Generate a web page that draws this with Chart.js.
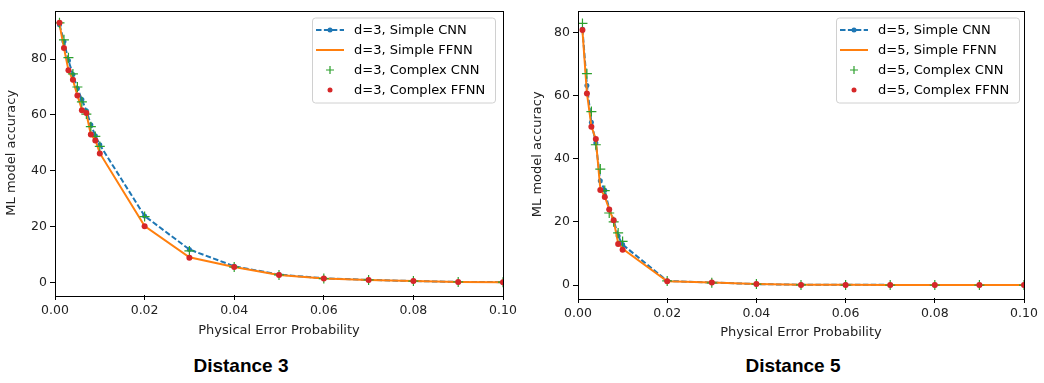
<!DOCTYPE html>
<html>
<head>
<meta charset="utf-8">
<script src="https://cdn.jsdelivr.net/npm/chart.js@4.4.1/dist/chart.umd.min.js"></script>
<style>
    body { margin: 0; background: #fff; width: 1044px; height: 383px; position: relative; overflow: hidden; }
    canvas { position: absolute; top: 0; }
    #chartD3 { left: 0; }
    #chartD5 { left: 520px; }
    .caption { position: absolute; top: 355px; width: 200px; text-align: center; font: bold 19px "Liberation Sans", Arial, sans-serif; color: #000; line-height: 22px; }
</style>
</head>
<body>
<canvas id="chartD3" width="520" height="345"></canvas>
<canvas id="chartD5" width="524" height="345"></canvas>
<div class="caption" style="left:141px">Distance 3</div>
<div class="caption" style="left:693px">Distance 5</div>
<script>
// physical error probabilities (x values)
const probs = [0.001, 0.002, 0.003, 0.004, 0.005, 0.006, 0.007, 0.008, 0.009, 0.01,
    0.02, 0.03, 0.04, 0.05, 0.06, 0.07, 0.08, 0.09, 0.1];

// distance 3
const d3SimpleCnn   = [92.3, 86.3, 79.5, 74.5, 69.5, 65.5, 61.5, 56.5, 52.5, 49.3, 23.8, 11.8, 5.8, 2.8, 1.5, 0.9, 0.5, 0.2, 0.1];
const d3SimpleFfnn  = [92.5, 84.0, 76.0, 72.5, 67.0, 62.0, 60.5, 53.0, 51.0, 46.3, 20.2, 9.0, 5.5, 2.7, 1.4, 0.9, 0.5, 0.2, 0.1];
const d3ComplexCnn  = [93.0, 86.9, 80.5, 74.7, 70.0, 64.7, 60.3, 55.8, 52.3, 48.7, 23.6, 11.3, 5.5, 2.7, 1.4, 0.9, 0.5, 0.2, 0.1];
const d3ComplexFfnn = [93.0, 84.0, 76.0, 72.6, 67.0, 61.7, 60.7, 53.0, 50.8, 46.2, 20.1, 8.8, 5.5, 2.7, 1.4, 0.9, 0.5, 0.2, 0.1];

// distance 5
const d5SimpleCnn   = [81.0, 63.2, 51.5, 45.0, 33.0, 30.0, 24.0, 20.5, 15.5, 12.8, 1.3, 0.8, 0.3, 0.1, 0.1, 0.05, 0.05, 0.05, 0.05];
const d5SimpleFfnn  = [80.5, 60.8, 50.3, 46.0, 30.5, 28.0, 24.0, 20.3, 13.3, 11.5, 1.2, 0.8, 0.3, 0.1, 0.1, 0.05, 0.05, 0.05, 0.05];
const d5ComplexCnn  = [82.8, 66.9, 54.9, 44.4, 36.7, 29.9, 22.8, 20.0, 16.5, 13.8, 1.3, 0.7, 0.3, 0.05, 0, 0, 0, 0, 0];
const d5ComplexFfnn = [80.7, 60.6, 50.1, 46.2, 30.1, 27.9, 23.9, 20.5, 13.0, 11.2, 1.2, 0.8, 0.3, 0.05, 0.05, 0, 0, 0, 0];

// tick labels
const xTicks = [0, 0.02, 0.04, 0.06, 0.08, 0.1];
const yTicksD3 = [0, 20, 40, 60, 80];
const yTicksD5 = [0, 20, 40, 60, 80];

const seriesNames = ['Simple CNN', 'Simple FFNN', 'Complex CNN', 'Complex FFNN'];

const BLUE = '#1f77b4', ORANGE = '#ff7f0e', GREEN = '#2ca02c', RED = '#d62728';

function toPoints(values) {
    return values.map((v, i) => ({ x: probs[i], y: v }));
}

// black box round the plot area, like matplotlib spines
const frame = {
    id: 'frame',
    afterDatasetsDraw(chart) {
        const { ctx, chartArea: a } = chart;
        ctx.save();
        ctx.strokeStyle = '#000';
        ctx.lineWidth = 1;
        ctx.strokeRect(Math.round(a.left) + 0.5, Math.round(a.top) + 0.5,
            Math.round(a.right - a.left), Math.round(a.bottom - a.top));
        ctx.restore();
    }
};

// matplotlib style legend box in the upper right
const boxLegend = {
    id: 'boxLegend',
    afterDraw(chart, args, opts) {
        const { ctx, chartArea: a } = chart;
        const w = 183, h = 85;
        const x = a.right - opts.right - w;
        const y = a.top + opts.top;
        ctx.save();
        ctx.fillStyle = 'rgba(255,255,255,0.85)';
        ctx.strokeStyle = '#d0d0d0';
        ctx.lineWidth = 1;
        ctx.beginPath();
        ctx.roundRect(x + 0.5, y + 0.5, w, h, 3);
        ctx.fill();
        ctx.stroke();

        ctx.font = '13px "DejaVu Sans"';
        ctx.textBaseline = 'middle';
        ctx.fillStyle = '#000';
        opts.labels.forEach((label, i) => {
            const ry = y + 12.5 + i * 20;
            const hx = x + 4, hw = 28, cx = hx + hw / 2;
            if (i === 0) {
                ctx.strokeStyle = BLUE;
                ctx.lineWidth = 2;
                ctx.setLineDash([5.5, 2.4]);
                ctx.beginPath(); ctx.moveTo(hx, ry); ctx.lineTo(hx + hw, ry); ctx.stroke();
                ctx.setLineDash([]);
                ctx.fillStyle = BLUE;
                ctx.beginPath(); ctx.arc(cx, ry, 2.5, 0, Math.PI * 2); ctx.fill();
            } else if (i === 1) {
                ctx.strokeStyle = ORANGE;
                ctx.lineWidth = 2;
                ctx.beginPath(); ctx.moveTo(hx, ry); ctx.lineTo(hx + hw, ry); ctx.stroke();
            } else if (i === 2) {
                ctx.strokeStyle = GREEN;
                ctx.lineWidth = 1.2;
                ctx.beginPath();
                ctx.moveTo(cx - 4, ry); ctx.lineTo(cx + 4, ry);
                ctx.moveTo(cx, ry - 4); ctx.lineTo(cx, ry + 4);
                ctx.stroke();
            } else {
                ctx.fillStyle = RED;
                ctx.beginPath(); ctx.arc(cx, ry, 2.5, 0, Math.PI * 2); ctx.fill();
            }
            ctx.fillStyle = '#000';
            ctx.fillText(label, x + 42, ry + 1);
        });
        ctx.restore();
    }
};

function makeChart(id, d, series, yTicks, yRange, layout) {
    const ctx = document.getElementById(id).getContext('2d');
    return new Chart(ctx, {
        type: 'scatter',
        data: {
            datasets: [
                {
                    label: 'd=' + d + ', ' + seriesNames[0], data: toPoints(series[0]),
                    showLine: true, borderColor: BLUE, backgroundColor: BLUE, borderWidth: 2,
                    borderDash: [5.5, 2.4], pointRadius: 2.5, pointBorderWidth: 0, order: 4
                },
                {
                    label: 'd=' + d + ', ' + seriesNames[1], data: toPoints(series[1]),
                    showLine: true, borderColor: ORANGE, backgroundColor: ORANGE, borderWidth: 2,
                    pointRadius: 0, order: 3
                },
                {
                    label: 'd=' + d + ', ' + seriesNames[2], data: toPoints(series[2]),
                    showLine: false, borderColor: GREEN, backgroundColor: GREEN,
                    pointStyle: 'cross', pointRadius: 5, pointBorderWidth: 1.2, order: 2
                },
                {
                    label: 'd=' + d + ', ' + seriesNames[3], data: toPoints(series[3]),
                    showLine: false, borderColor: RED, backgroundColor: RED,
                    pointRadius: 3, pointBorderWidth: 0, order: 1
                }
            ]
        },
        options: {
            responsive: false,
            animation: false,
            layout: { padding: layout.padding },
            plugins: {
                legend: { display: false },
                tooltip: { enabled: false },
                boxLegend: { right: layout.legendRight, top: 7, labels: seriesNames.map(n => 'd=' + d + ', ' + n) }
            },
            scales: {
                x: {
                    type: 'linear', min: 0, max: 0.1,
                    afterBuildTicks: s => { s.ticks = xTicks.map(v => ({ value: v })); },
                    afterFit: s => { s.height = layout.xHeight; },
                    ticks: { color: '#222', font: { family: 'DejaVu Sans', size: 12.5 }, padding: 3, maxRotation: 0,
                        callback: v => v.toFixed(2) },
                    grid: { drawOnChartArea: false, color: '#000', tickLength: 5 },
                    border: { display: false },
                    title: { display: true, text: 'Physical Error Probability', color: '#222',
                        font: { family: 'DejaVu Sans', size: 13 } }
                },
                y: {
                    type: 'linear', min: yRange[0], max: yRange[1],
                    afterBuildTicks: s => { s.ticks = yTicks.map(v => ({ value: v })); },
                    afterFit: s => { s.width = layout.yWidth; },
                    ticks: { color: '#222', font: { family: 'DejaVu Sans', size: 12.5 }, padding: 3 },
                    grid: { drawOnChartArea: false, color: '#000', tickLength: 5 },
                    border: { display: false },
                    title: { display: true, text: 'ML model accuracy', color: '#222',
                        font: { family: 'DejaVu Sans', size: 13 } }
                }
            }
        },
        plugins: [frame, boxLegend]
    });
}

document.addEventListener('DOMContentLoaded', () => {
    makeChart('chartD3', 3, [d3SimpleCnn, d3SimpleFfnn, d3ComplexCnn, d3ComplexFfnn], yTicksD3, [-4.5, 97.4],
        { padding: { top: 3, right: 17, bottom: 3, left: 0 }, xHeight: 47, yWidth: 55, legendRight: 8 });
    makeChart('chartD5', 5, [d5SimpleCnn, d5SimpleFfnn, d5ComplexCnn, d5ComplexFfnn], yTicksD5, [-4.1, 86.9],
        { padding: { top: 6, right: 20, bottom: 1, left: 6 }, xHeight: 46, yWidth: 52, legendRight: 5 });
});
</script>
</body>
</html>
